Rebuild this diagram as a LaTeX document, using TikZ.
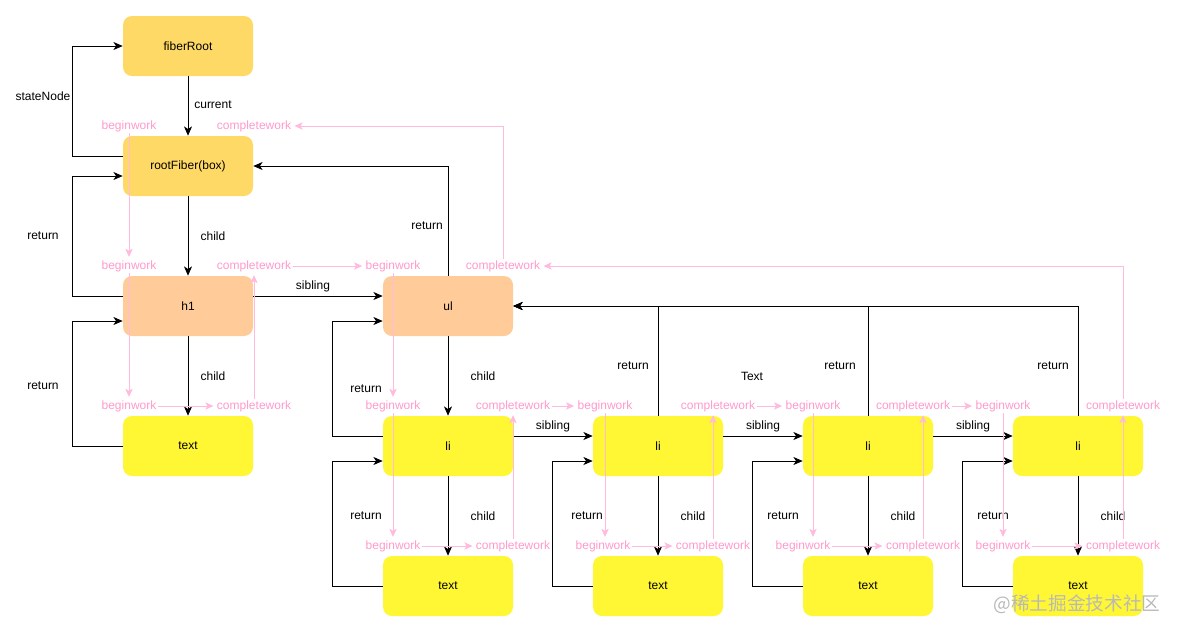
\documentclass[tikz,border=0pt]{standalone}
\usepackage{fontspec}
\setmainfont{Liberation Sans}
\newfontfamily\cjk{Noto Sans CJK SC}
\usepackage{xcolor}
\usepackage{tikz}
\usetikzlibrary{arrows.meta}

\definecolor{rootcol}{HTML}{FFD966}
\definecolor{hostcol}{HTML}{FFCC99}
\definecolor{leafcol}{HTML}{FFF733}
\definecolor{worktxt}{HTML}{FF99CC}
\definecolor{workline}{HTML}{FFBADD}

\begin{document}
\begin{tikzpicture}[x=0.75pt,y=-0.75pt,
  font=\fontsize{9}{11}\selectfont,
  fib/.style={rounded corners=6.75pt,minimum width=97.5pt,minimum height=45pt,inner sep=0pt},
  arr/.style={-{Stealth[length=7pt,width=6pt,inset=2pt]},line width=0.75pt},
  work/.style={text=worktxt,inner sep=1pt},
  warr/.style={-{Stealth[length=6pt,width=5.5pt,inset=1.5pt]},draw=workline,line width=0.6pt,shorten >=1.5pt}]

\useasboundingbox (0,0) rectangle (1177,633);

% fibers
\node[fib,fill=rootcol] (fr) at (188,46) {fiberRoot};
\node[fib,fill=rootcol] (rf) at (188,166) {rootFiber(box)};
\node[fib,fill=hostcol] (h1) at (188,306) {h1};
\node[fib,fill=leafcol] (t0) at (188,446) {text};
\node[fib,fill=hostcol] (ul) at (448,306) {ul};

\node[fib,fill=leafcol] (li1) at (448,446) {li};
\node[fib,fill=leafcol] (li2) at (658,446) {li};
\node[fib,fill=leafcol] (li3) at (868,446) {li};
\node[fib,fill=leafcol] (li4) at (1078,446) {li};

\node[fib,fill=leafcol] (t1) at (448,586) {text};
\node[fib,fill=leafcol] (t2) at (658,586) {text};
\node[fib,fill=leafcol] (t3) at (868,586) {text};
\node[fib,fill=leafcol] (t4) at (1078,586) {text};

% child / sibling / return
\draw[arr] (fr) -- (rf);
\draw[arr] (rf) -- (h1);
\draw[arr] (h1) -- (t0);
\draw[arr] (ul) -- (li1);
\draw[arr] (li1) -- (t1);
\draw[arr] (li2) -- (t2);
\draw[arr] (li3) -- (t3);
\draw[arr] (li4) -- (t4);

\draw[arr] ([yshift=7.5pt]rf.west) -- ++(-50,0) |- (fr.west);
\draw[arr] ([yshift=7.5pt]h1.west) -- ++(-50,0) |- ([yshift=-7.5pt]rf.west);
\draw[arr] (t0.west) -- ++(-50,0) |- ([yshift=-11.25pt]h1.west);
\draw[arr] ([yshift=7.5pt]h1.east) -- ([yshift=7.5pt]ul.west);
\draw[arr] (ul.north) |- (rf.east);

\draw[arr] ([yshift=7.5pt]li1.west) -- ++(-50,0) |- ([yshift=-11.25pt]ul.west);
\draw[arr] ([yshift=7.5pt]li1.east) -- ([yshift=7.5pt]li2.west);
\draw[arr] ([yshift=7.5pt]li2.east) -- ([yshift=7.5pt]li3.west);
\draw[arr] ([yshift=7.5pt]li3.east) -- ([yshift=7.5pt]li4.west);
\draw[arr] (li2.north) |- (ul.east);
\draw[arr] (li3.north) |- (ul.east);
\draw[arr] (li4.north) |- (ul.east);

\draw[arr] (t1.west) -- ++(-50,0) |- ([yshift=-11.25pt]li1.west);
\draw[arr] (t2.west) -- ++(-40,0) |- ([yshift=-11.25pt]li2.west);
\draw[arr] (t3.west) -- ++(-50,0) |- ([yshift=-11.25pt]li3.west);
\draw[arr] (t4.west) -- ++(-50,0) |- ([yshift=-11.25pt]li4.west);

\node (lState) at (43,96) {stateNode};
\node (lCur) at (213,105) {current};
\node (lRet0) at (43,236) {return};
\node (lCh0) at (213,236) {child};
\node (lSib0) at (313,286) {sibling};
\node (lRet1) at (43,386) {return};
\node (lCh1) at (213,376) {child};
\node (lRetUl) at (427,226) {return};
\node (lRetLi1) at (366,389) {return};
\node (lChUl) at (483,376) {child};
\node (lSib1) at (553,426) {sibling};
\node (lSib2) at (763,426) {sibling};
\node (lSib3) at (973,426) {sibling};
\node (lRetLi2) at (633,366) {return};
\node (lRetLi3) at (840,366) {return};
\node (lRetLi4) at (1053,366) {return};
\node (lText) at (752,376) {Text};
\node (lRetT1) at (366,516) {return};
\node (lChT1) at (483,516) {child};
\node (lRetT2) at (587,516) {return};
\node (lChT2) at (693,516) {child};
\node (lRetT3) at (783,516) {return};
\node (lChT3) at (903,516) {child};
\node (lRetT4) at (993,516) {return};
\node (lChT4) at (1113,516) {child};

% beginwork / completework
\node[work] (bwRf) at (129,126) {beginwork};
\node[work] (cwRf) at (254,126) {completework};
\node[work] (bwH1) at (129,266) {beginwork};
\node[work] (cwH1) at (254,266) {completework};
\node[work] (bwT0) at (129,406) {beginwork};
\node[work] (cwT0) at (254,406) {completework};
\node[work] (bwUl) at (393,266) {beginwork};
\node[work] (cwUl) at (503,266) {completework};

\node[work] (bwLi1) at (393,406) {beginwork};
\node[work] (cwLi1) at (513,406) {completework};
\node[work] (bwT1) at (393,546) {beginwork};
\node[work] (cwT1) at (513,546) {completework};
\node[work] (bwLi2) at (605,406) {beginwork};
\node[work] (cwLi2) at (718,406) {completework};
\node[work] (bwT2) at (603,546) {beginwork};
\node[work] (cwT2) at (713,546) {completework};
\node[work] (bwLi3) at (813,406) {beginwork};
\node[work] (cwLi3) at (913,406) {completework};
\node[work] (bwT3) at (803,546) {beginwork};
\node[work] (cwT3) at (923,546) {completework};
\node[work] (bwLi4) at (1003,406) {beginwork};
\node[work] (cwLi4) at (1123,406) {completework};
\node[work] (bwT4) at (1003,546) {beginwork};
\node[work] (cwT4) at (1123,546) {completework};

\draw[warr] (bwRf) -- (bwH1);
\draw[warr] (bwH1) -- (bwT0);
\draw[warr] (bwT0) -- (cwT0);
\draw[warr] (cwT0) -- (cwH1);
\draw[warr] (cwH1) -- (bwUl);
\draw[warr] (bwUl) -- (bwLi1);

\draw[warr] (bwLi1) -- (bwT1);
\draw[warr] (bwT1) -- (cwT1);
\draw[warr] (cwT1) -- (cwLi1);
\draw[warr] (cwLi1) -- (bwLi2);
\draw[warr] (bwLi2) -- (bwLi2 |- bwT2.north);
\draw[warr] (bwT2) -- (cwT2);
\draw[warr] (cwT2) -- (cwT2 |- cwLi2.south);
\draw[warr] (cwLi2) -- (bwLi3);
\draw[warr] (bwLi3) -- (bwLi3 |- bwT3.north);
\draw[warr] (bwT3) -- (cwT3);
\draw[warr] (cwT3) -- (cwT3 |- cwLi3.south);
\draw[warr] (cwLi3) -- (bwLi4);
\draw[warr] (bwLi4) -- (bwT4);
\draw[warr] (bwT4) -- (cwT4);
\draw[warr] (cwT4) -- (cwLi4);

\draw[warr] (cwLi4.north) |- (cwUl.east);
\draw[warr] (cwUl.north) |- (cwRf.east);

\node[text=gray!55,font=\cjk\fontsize{14}{16}\selectfont] (wm) at (1077,604) {@稀土掘金技术社区};

\end{tikzpicture}
\end{document}
